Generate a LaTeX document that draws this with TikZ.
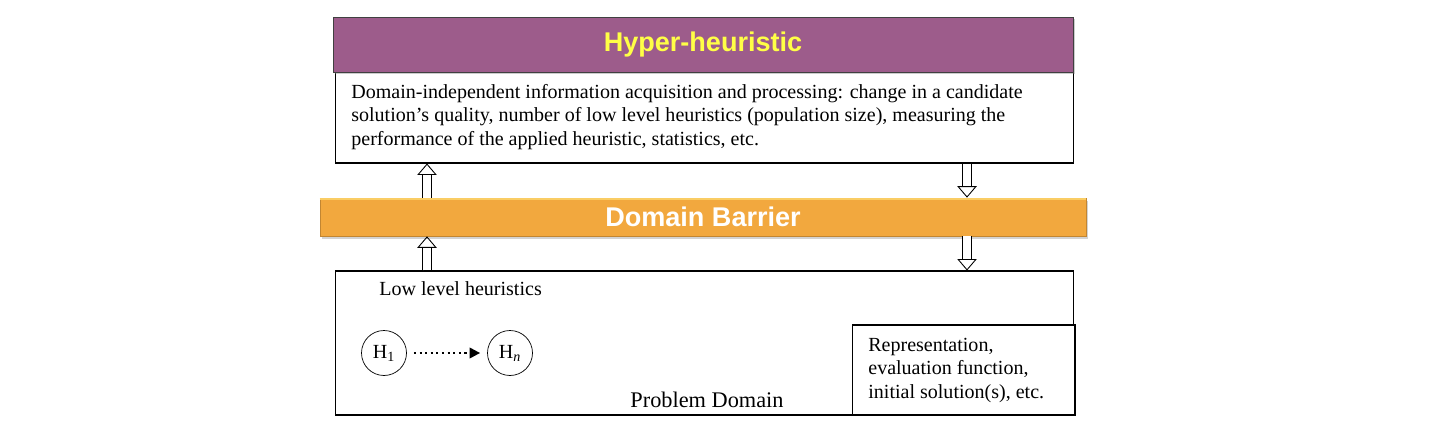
\documentclass[tikz,border=0pt]{standalone}
\usepackage{fontspec}
\setmainfont{Liberation Serif}
\setsansfont{Liberation Sans}
\usetikzlibrary{positioning}
\usetikzlibrary{calc}
\usetikzlibrary{arrows.meta}
\usetikzlibrary{shadows}

\definecolor{hhpurple}{RGB}{157,92,139}
\definecolor{hhyellow}{RGB}{255,255,70}
\definecolor{barrierorange}{RGB}{242,168,62}
\definecolor{barrierlight}{RGB}{250,205,100}

\begin{document}
\begin{tikzpicture}[x=0.02cm, y=-0.02cm, font=\fontsize{11.4}{13.1}\selectfont,
    box/.style={draw, line width=0.6pt, fill=white, inner sep=0pt},
    hollow/.style={double, double distance=4.4pt, line width=0.5pt, -{Triangle[open, length=6.5pt, width=11pt]}}]
			\useasboundingbox (0,0) rectangle (1454,426);
			% Nodes
			\node[box, minimum width=14.78cm, minimum height=1.82cm] (info) at (704.5,117.5) {};
			\node[draw=black!75, fill=hhpurple, minimum width=14.8cm, minimum height=1.1cm, drop shadow={shadow xshift=1pt, shadow yshift=-1pt, opacity=0.4}, text=hhyellow, font=\sffamily\bfseries\fontsize{15.4}{18}\selectfont] (hyper) at (703,44.5) {Hyper-heuristic};
			\node[anchor=base west, align=left, inner sep=0pt] (infotext) at (351,145) {Domain-independent information acquisition and processing: change in a candidate\\solution's quality, number of low level heuristics (population size), measuring the\\performance of the applied heuristic, statistics, etc.};
			\node[draw=barrierorange!80!black, fill=barrierorange, minimum width=15.32cm, minimum height=0.76cm, drop shadow={shadow xshift=1pt, shadow yshift=-1.5pt, opacity=0.35}, text=white, font=\sffamily\bfseries\fontsize{15.4}{18}\selectfont] (barrier) at (703,217) {Domain Barrier};
			\draw[barrierlight, line width=1.2pt] ([yshift=-0.8pt]barrier.north west) -- ([yshift=-0.8pt]barrier.north east);
			\node[box, minimum width=14.78cm, minimum height=2.88cm] (domain) at (704.5,343) {};
			\node[anchor=base west, inner sep=0pt] (llh) at (379,295) {Low level heuristics};
			\node[draw, circle, minimum size=0.9cm, inner sep=0pt] (h1) at (384,353) {H\textsubscript{1}};
			\node[draw, circle, minimum size=0.9cm, inner sep=0pt] (hn) at (510,353) {H\textsubscript{\itshape n}};
			\node[anchor=base, inner sep=0pt, font=\fontsize{12.7}{15}\selectfont] (pdlabel) at (707,407) {Problem Domain};
			\node[box, minimum width=4.46cm, minimum height=1.8cm] (repr) at (963.5,370) {};
			\node[anchor=base west, align=left, inner sep=0pt] (reprtext) at (868,398) {Representation,\\evaluation function,\\initial solution(s), etc.};
			\coordinate (upx) at (427,0);
			\coordinate (downx) at (967,0);
			% Arrows
			\draw[hollow] (barrier.north -| upx) -- (info.south -| upx);
			\draw[hollow] (domain.north -| upx) -- (barrier.south -| upx);
			\draw[hollow] (info.south -| downx) -- (barrier.north -| downx);
			\draw[hollow] (barrier.south -| downx) -- (domain.north -| downx);
			\draw[dotted, line width=1.2pt, -{Triangle[length=6pt, width=6pt]}, shorten <=4pt, shorten >=4pt] (h1) -- (hn);
		\end{tikzpicture}
\end{document}
